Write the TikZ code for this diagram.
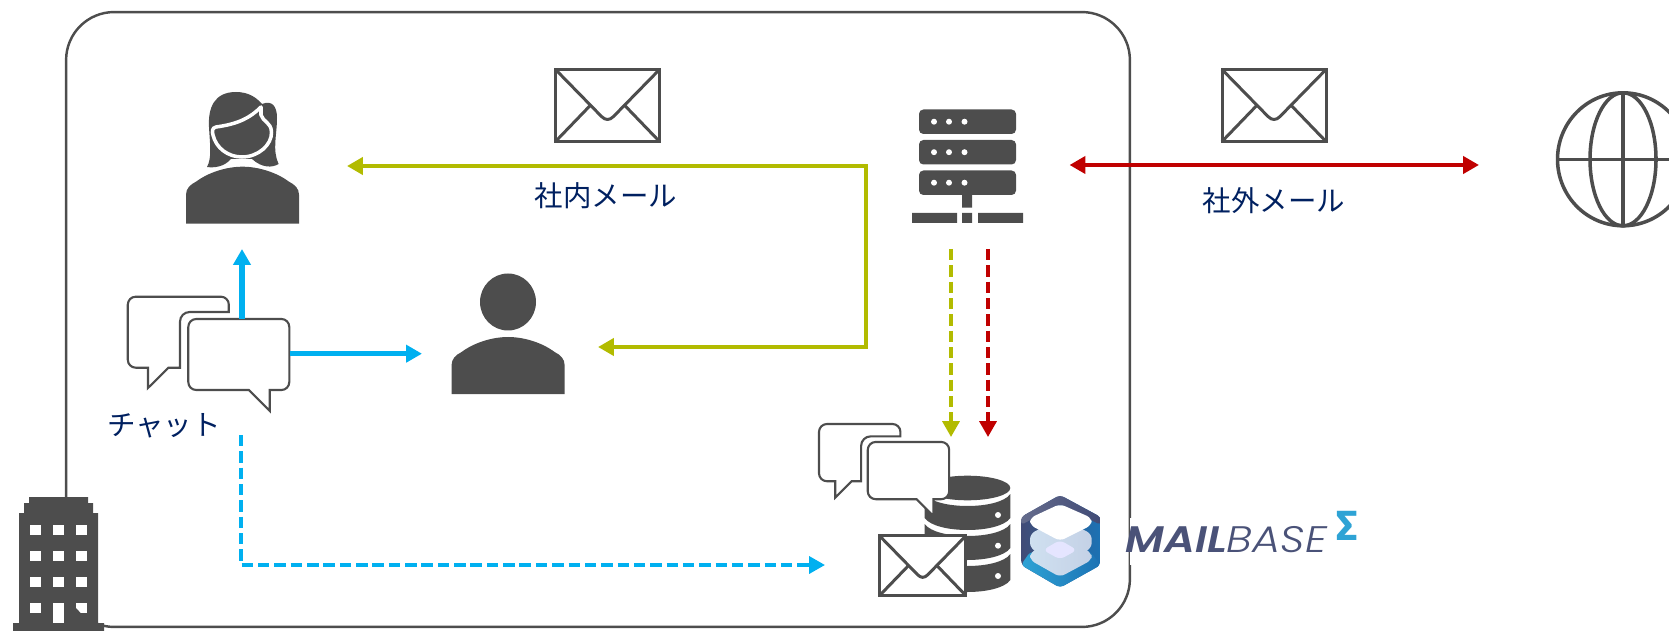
\documentclass[tikz,border=0pt]{standalone}
\usepackage{fontspec}
\usetikzlibrary{arrows.meta}
\newfontfamily\jpfont{Noto Sans CJK JP}
\newfontfamily\logofont[FakeStretch=1.17,ItalicFont={Poppins Light Italic},ItalicFeatures={FakeStretch=1.17},BoldItalicFont={Poppins SemiBold Italic},BoldItalicFeatures={FakeStretch=1.17}]{Poppins}
\newfontfamily\sigmafont{Fira Sans}
\definecolor{icongrey}{HTML}{4D4D4D}
\definecolor{olive}{HTML}{B2BB00}
\definecolor{chatblue}{HTML}{00B0F0}
\definecolor{mailred}{HTML}{C00000}
\definecolor{textnavy}{HTML}{002060}
\definecolor{logonavy}{HTML}{4A5278}
\definecolor{logoblue}{HTML}{2EA3D5}
\definecolor{logodeep}{HTML}{1C72B4}
\definecolor{logodark}{HTML}{414B76}
\definecolor{layerleft}{HTML}{CFE0F0}
\definecolor{layerright}{HTML}{C4D1E6}
\tikzset{
  person body/.pic={
    \fill[icongrey] (0,57) -- (0,28) .. controls (0,22) and (4,18) .. (10,15) .. controls (22,6) and (40,0) .. (56.5,0)
      .. controls (73,0) and (91,6) .. (103,15) .. controls (109,18) and (113,22) .. (113,28) -- (113,57) -- cycle;
  },
  envelope/.pic={
    \draw[icon line,fill=white] (1,1) rectangle (105,73);
    \draw[icon line,line join=round] (1,1) -- (47,48) .. controls (51,52) and (55,52) .. (59,48) -- (105,1);
    \draw[icon line] (1,73) -- (36,36.7) (105,73) -- (70,36.7);
  },
  chat pair/.pic={
    % back bubble, then the one in front
    \draw[bubble line,fill=white,rounded corners=4.5pt] (20.2,71) -- (0,71) -- (0,0) -- (101,0)
        [sharp corners] -- (101,15.3) [rounded corners=5.5pt] -- (52.2,15.3) [sharp corners] -- (52.2,71) -- (40.6,71) -- (20.2,91.3) -- cycle;
    \draw[bubble line,fill=white,rounded corners=4.5pt] (121,93.3) -- (60.5,93.3) -- (60.5,22.3) -- (161.5,22.3) -- (161.5,93.3)
        [sharp corners] -- (142,93.3) -- (142,114.3) -- cycle;
  }
}
\begin{document}
\begin{tikzpicture}[x=0.02cm,y=-0.02cm,>={Triangle[length=9pt,width=9.6pt]},
    icon line/.style={draw=icongrey,line width=1.7pt},
    bubble line/.style={draw=icongrey,line width=1.2pt},
    flow/.style={line width=2.5pt},
    flow dash/.style={line width=2pt,dash pattern=on 6.5pt off 2.8pt},
    caption/.style={font=\jpfont\fontsize{16.2}{18}\selectfont,text=textnavy,inner sep=0pt}]
    \useasboundingbox (0,0) rectangle (1669,631);

    % office frame
    \node[draw=icongrey,line width=1.4pt,rounded corners=0.96cm,minimum width=21.28cm,minimum height=12.3cm,inner sep=0pt] (office) at (598,319.5) {};

    % building
    \fill[icongrey] (13,631) -- (13,623) -- (19,623) -- (19,513) -- (24,513) -- (24,503) -- (29,503) -- (29,497) -- (88,497) -- (88,503) -- (93,503) -- (93,513) -- (98,513) -- (98,623) -- (104,623) -- (104,631) -- cycle;
    \foreach \row in {525,551,577,603}
        \foreach \col in {30,53,76}
            \fill[white] (\col,\row) rectangle ++(10.7,10.4);
    \fill[white] (53,603) rectangle (63.7,623);
    \fill[icongrey] (76,608) -- (81,613.4) -- (76,613.4) -- cycle;

    % woman
    \pic at (186,166.7) {person body};
    \fill[icongrey] (207,167) .. controls (212,158) and (210,145) .. (209,127) .. controls (208,108) and (214,92) .. (236,92)
        .. controls (248,92) and (256,97) .. (262,104) .. controls (272,100) and (277,106) .. (277,118)
        .. controls (277,135) and (272,150) .. (278.6,164) .. controls (272,168) and (262,168) .. (252,159)
        -- (231,159) .. controls (224,167) and (214,168) .. (207,167) -- cycle;
    \draw[white,line width=2pt,line join=round] (261,107) .. controls (250,118) and (238,124) .. (216,127)
        .. controls (212,128) and (212,131) .. (213,135) .. controls (216,148) and (228,157) .. (242,157)
        .. controls (258,157) and (272,145) .. (271.5,132) .. controls (271,122) and (263,122) .. (261,115) -- cycle;

    % man
    \pic at (451.6,337) {person body};
    \fill[icongrey] (508,302) ellipse (28 and 28.5);

    % server
    \foreach \top in {109.5,140,170.5} {
        \fill[icongrey,rounded corners=2.5pt] (919,\top) rectangle ++(97,24.5);
        \foreach \col in {934,949,964.5}
            \fill[white] (\col,\top+12.2) circle (3);
    }
    \fill[icongrey] (962,195) rectangle (972,207.7)
        (912,213) rectangle (957,223)
        (962,213) rectangle (972,223)
        (978,213) rectangle (1023,223);

    % globe
    \begin{scope}
        \clip (1540,80) rectangle (1669,240);
        \draw[draw=icongrey,line width=2pt] (1623,159.3) ellipse (65.5 and 66.5);
        \draw[draw=icongrey,line width=2pt] (1623,159.3) ellipse (33 and 66.5);
        \draw[draw=icongrey,line width=2pt] (1623,92.7) -- (1623,226);
        \draw[draw=icongrey,line width=2pt] (1557,159.3) -- (1689,159.3);
    \end{scope}

    % database
    \fill[icongrey] (967.5,488) ellipse (42.8 and 12.3);
    \foreach \edge/\lower in {494/518,524/548,554/580}
        \fill[icongrey] (924.7,\edge) .. controls (936,\edge+16) and (999,\edge+16) .. (1010.4,\edge)
            -- (1010.4,\lower) .. controls (999,\lower+16) and (936,\lower+16) .. (924.7,\lower) -- cycle;
    \foreach \dotrow in {515,545.7,576}
        \fill[white] (998,\dotrow) circle (3);

    % mails and chats
    \pic at (554.5,68.5) {envelope};
    \pic at (1221,68.5) {envelope};
    \pic[scale=0.83] at (878.7,535) {envelope};
    \pic at (127.8,296.7) {chat pair};
    \pic[scale=0.806] at (819,424) {chat pair};

    % logo
    \fill[white] (1130,518) rectangle (1345,565);
    \shade[left color=logodark,right color=logodeep,rounded corners=3pt] (1060,495) -- (1100.7,517) -- (1100.7,565) -- (1060,587.7) -- (1021,565) -- (1021,517) -- cycle;
    \shade[left color=logonavy!85!white,right color=logodark,rounded corners=2pt] (1021,517) -- (1060,495) -- (1100.7,517) -- (1100.7,525) -- (1060,504) -- (1021,525) -- cycle;
    \shade[left color=logoblue,right color=logodeep,rounded corners=2pt] (1021,565) -- (1060,587.7) -- (1100.7,565) -- (1091,552) -- (1030,552) -- cycle;
    \shade[left color=layerleft,right color=layerright,rounded corners=3pt] (1030,553) -- (1030,560) -- (1060,577) -- (1091.7,560) -- (1091.7,553) -- (1060,535) -- cycle;
    \shade[left color=layerleft,right color=layerright,rounded corners=3pt] (1030,534) -- (1030,548) -- (1060,565) -- (1091.7,548) -- (1091.7,534) -- (1060,518) -- cycle;
    \fill[white!90!blue,rounded corners=3pt] (1043,550) -- (1060,540) -- (1077,550) -- (1060,559.5) -- cycle;
    \fill[white,rounded corners=3pt] (1030,525) -- (1030,518) -- (1060,504) -- (1091.7,518) -- (1091.7,525) -- (1060,541) -- cycle;

    \node[inner sep=0pt,anchor=base west,text=logonavy,font=\logofont\fontsize{21}{24}\selectfont] (mailbase) at (1125,552.7) {\textbf{\textit{MAIL}}\textit{BASE}};
    \node[inner sep=0pt,anchor=base west,text=logoblue,font=\sigmafont\bfseries\fontsize{24}{28}\selectfont] (sigma) at (1336,540) {Σ};

    % captions
    \node[caption] (internal) at (606,196) {社内メール};
    \node[caption] (external) at (1274,201) {社外メール};
    \node[caption] (chatlabel) at (164,426) {チャット};

    \coordinate (chattop) at (242,319);
    \coordinate (chatright) at (290,353.7);
    \coordinate (womanin) at (242,249);
    \coordinate (manin) at (422,353.7);
    \coordinate (chatout) at (241,435);
    \coordinate (chatstore) at (825,565);
    \coordinate (womanmail) at (347,166);
    \coordinate (manmail) at (598,347);
    \coordinate (turntop) at (866,166);
    \coordinate (turnbottom) at (866,347);
    \coordinate (serverleft) at (951,249);
    \coordinate (serverright) at (988,249);
    \coordinate (storeleft) at (951,437);
    \coordinate (storeright) at (988,437);
    \coordinate (serverout) at (1069.5,165);
    \coordinate (globein) at (1479,165);

    \draw[->,flow,line width=2.9pt,chatblue] (chattop) -- (womanin);
    \draw[->,flow,line width=2.9pt,chatblue] (chatright) -- (manin);
    \draw[->,flow dash,chatblue] (chatout) |- (chatstore);
    \draw[<->,flow,olive,line join=miter] (womanmail) -- (turntop) -- (turnbottom) -- (manmail);
    \draw[->,flow dash,olive] (serverleft) -- (storeleft);
    \draw[->,flow dash,mailred] (serverright) -- (storeright);
    \draw[<->,flow,mailred] (serverout) -- (globein);
\end{tikzpicture}
\end{document}
